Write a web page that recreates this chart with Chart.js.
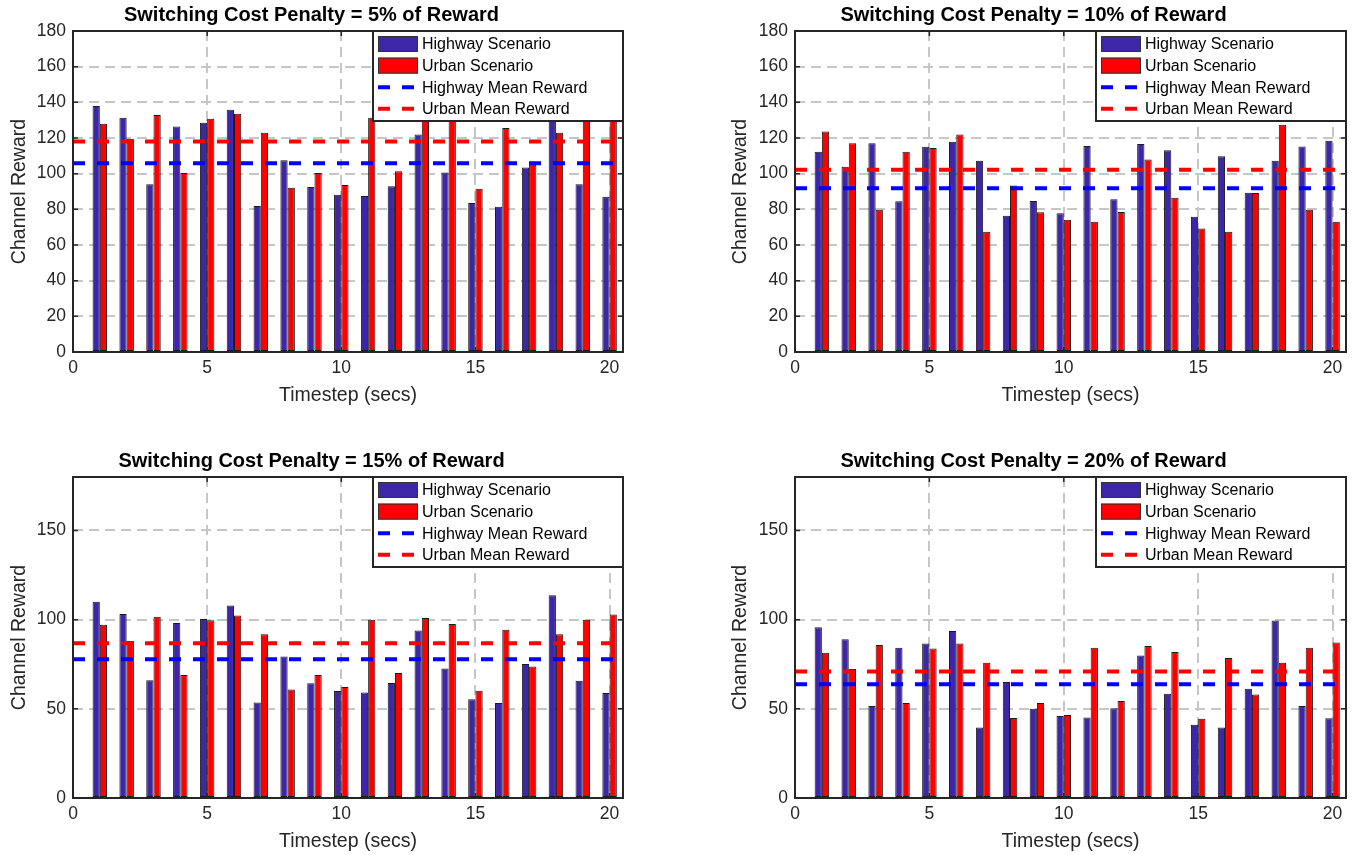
<!DOCTYPE html>
<html>
<head>
<meta charset="utf-8">
<script src="https://cdn.jsdelivr.net/npm/chart.js@4.4.1/dist/chart.umd.min.js"></script>
<style>
  html, body { margin: 0; padding: 0; background: #fff; width: 1356px; height: 855px; overflow: hidden; }
  .panel { position: absolute; }
</style>
</head>
<body>
<div class="panel" style="left:0;top:0"><canvas id="pen5" width="630" height="427"></canvas></div>
<div class="panel" style="left:721px;top:0"><canvas id="pen10" width="632" height="427"></canvas></div>
<div class="panel" style="left:0;top:446px"><canvas id="pen15" width="630" height="427"></canvas></div>
<div class="panel" style="left:721px;top:446px"><canvas id="pen20" width="632" height="427"></canvas></div>
<script>
// timesteps and tick labels
const timesteps = [1, 2, 3, 4, 5, 6, 7, 8, 9, 10, 11, 12, 13, 14, 15, 16, 17, 18, 19, 20];
const xTicks = [0, 5, 10, 15, 20];
const yTicksFine = [0, 20, 40, 60, 80, 100, 120, 140, 160, 180];
const yTicksCoarse = [0, 50, 100, 150];
const xMin = 0, xMax = 20.5, yMax = 180;

// 5% penalty
const highway5 = [138, 131.4, 94, 126.4, 128.6, 135.9, 81.9, 107.5, 92.5, 88.2, 87.5, 92.9, 122, 100.7, 83.6, 81.5, 103.4, 139, 94, 87.1];
const urban5 = [128, 119.6, 132.9, 100.4, 130.8, 133.6, 123, 92.1, 100.4, 93.6, 131.4, 101.3, 133, 131, 91.6, 125.6, 105, 123, 133, 133];
const highwayMean5 = 105.8, urbanMean5 = 118.1;

// 10% penalty
const highway10 = [112.3, 103.9, 117, 84.5, 115.1, 117.9, 107.3, 76.4, 84.7, 77.8, 115.5, 85.6, 116.6, 113.1, 75.9, 109.7, 89.3, 107.3, 115.3, 118.5];
const urban10 = [123.7, 117, 79.8, 112.3, 114.4, 121.9, 67.5, 93.3, 78.3, 74.2, 73.1, 78.5, 107.9, 86.5, 69.3, 67.5, 89.2, 127.5, 79.8, 73.1];
const highwayMean10 = 91.8, urbanMean10 = 102.2;

// 15% penalty
const highway15 = [110, 103.2, 66, 98.2, 100.4, 107.9, 53.5, 79.3, 64.3, 60, 59.1, 64.5, 93.9, 72.6, 55.4, 53.3, 75.2, 113.7, 65.8, 58.9];
const urban15 = [97.1, 88.1, 101.6, 69, 99.7, 102.3, 91.8, 60.8, 69, 62.3, 99.9, 70.1, 101, 97.6, 60.2, 94.3, 73.7, 91.8, 99.9, 102.9];
const highwayMean15 = 77.8, urbanMean15 = 86.8;

// 20% penalty
const highway20 = [95.8, 89, 51.6, 84.2, 86.6, 93.7, 39.5, 65.1, 50.1, 46, 45.1, 50.3, 79.9, 58.4, 41.1, 39.5, 61.2, 99.5, 51.6, 44.7];
const urban20 = [81.4, 72.4, 85.8, 53.3, 83.8, 86.6, 75.9, 44.9, 53.3, 46.6, 84.2, 54.4, 85.3, 81.9, 44.5, 78.5, 58, 75.9, 84.2, 87.2];
const highwayMean20 = 63.8, urbanMean20 = 70.9;

const FONT = '"Liberation Sans", Arial, Helvetica, sans-serif';
const AXIS_COLOR = '#262626';
Chart.defaults.font.family = FONT;
Chart.defaults.color = AXIS_COLOR;

// box around the axes + inward tick marks (matlab style)
const framePlugin = {
  id: 'frame',
  afterDatasetsDraw(chart) {
    const {ctx, chartArea: {left, top, right, bottom}, scales: {x, y}} = chart;
    ctx.save();
    ctx.strokeStyle = AXIS_COLOR;
    ctx.lineWidth = 1.5;
    ctx.beginPath();
    y.ticks.forEach(t => {
      const py = y.getPixelForValue(t.value);
      ctx.moveTo(left, py); ctx.lineTo(left + 5, py);
      ctx.moveTo(right - 5, py); ctx.lineTo(right, py);
    });
    x.ticks.forEach(t => {
      const px = x.getPixelForValue(t.value);
      ctx.moveTo(px, bottom); ctx.lineTo(px, bottom - 5);
      ctx.moveTo(px, top); ctx.lineTo(px, top + 5);
    });
    ctx.stroke();
    ctx.lineWidth = 2;
    ctx.strokeRect(left, top, right - left, bottom - top);
    ctx.restore();
  }
};

// legend box in the top right corner of the plot
const boxLegend = {
  id: 'boxLegend',
  afterDraw(chart) {
    const {ctx, chartArea: {top, right}} = chart;
    const w = 250, h = 90;
    const lx = right - w, ly = top;
    ctx.save();
    ctx.fillStyle = '#fff';
    ctx.fillRect(lx, ly, w, h);
    ctx.strokeStyle = AXIS_COLOR;
    ctx.lineWidth = 2;
    ctx.strokeRect(lx, ly, w, h);
    ctx.font = '16px ' + FONT;
    ctx.textBaseline = 'middle';
    chart.data.datasets.forEach((ds, i) => {
      const cy = ly + 13 + i * 21.6;
      if (ds.type === 'line') {
        ctx.strokeStyle = ds.borderColor;
        ctx.lineWidth = 4;
        ctx.setLineDash([12, 12]);
        ctx.beginPath();
        ctx.moveTo(lx + 5, cy); ctx.lineTo(lx + 42, cy);
        ctx.stroke();
        ctx.setLineDash([]);
      } else {
        ctx.fillStyle = ds.backgroundColor;
        ctx.fillRect(lx + 5, cy - 8, 40, 16);
        ctx.strokeStyle = '#333';
        ctx.lineWidth = 1;
        ctx.strokeRect(lx + 5.5, cy - 7.5, 39, 15);
      }
      ctx.fillStyle = '#000';
      ctx.fillText(ds.label, lx + 49, cy + 1);
    });
    ctx.restore();
  }
};

function makePanel(id, title, highway, urban, highwayMean, urbanMean, yTicks, axisWidth) {
  const ctx = document.getElementById(id).getContext('2d');
  return new Chart(ctx, {
    type: 'bar',
    data: {
      datasets: [
        {
          label: 'Highway Scenario',
          data: timesteps.map((t, i) => ({x: t, y: highway[i]})),
          backgroundColor: '#3E26A8',
          borderColor: '#1a1a1a',
          borderWidth: 1,
          borderSkipped: false,
          order: 1
        },
        {
          label: 'Urban Scenario',
          data: timesteps.map((t, i) => ({x: t, y: urban[i]})),
          backgroundColor: '#FF0000',
          borderColor: '#1a1a1a',
          borderWidth: 1,
          borderSkipped: false,
          order: 1
        },
        {
          type: 'line',
          label: 'Highway Mean Reward',
          data: [{x: xMin, y: highwayMean}, {x: xMax, y: highwayMean}],
          borderColor: '#0000FF',
          borderWidth: 4,
          borderDash: [12, 12],
          pointRadius: 0,
          fill: false,
          order: 0
        },
        {
          type: 'line',
          label: 'Urban Mean Reward',
          data: [{x: xMin, y: urbanMean}, {x: xMax, y: urbanMean}],
          borderColor: '#FF0000',
          borderWidth: 4,
          borderDash: [12, 12],
          pointRadius: 0,
          fill: false,
          order: 0
        }
      ]
    },
    options: {
      responsive: false,
      animation: false,
      categoryPercentage: 0.54,
      barPercentage: 1,
      layout: { padding: { left: 0, right: 7, top: 0, bottom: 0 } },
      plugins: {
        legend: { display: false },
        tooltip: { enabled: false },
        title: {
          display: true,
          text: title,
          color: '#000',
          font: { size: 20, weight: 'bold' },
          padding: { top: 3, bottom: 4 }
        }
      },
      scales: {
        x: {
          type: 'linear',
          min: xMin,
          max: xMax,
          offset: false,
          grid: { color: '#c6c6c6', lineWidth: 2, drawTicks: false, offset: false },
          border: { display: false, dash: [10, 6] },
          ticks: { padding: 6, color: AXIS_COLOR, font: { size: 17.5 }, includeBounds: false },
          title: { display: true, text: 'Timestep (secs)', color: AXIS_COLOR, font: { size: 19.5 }, padding: { top: 0, bottom: 20 } },
          afterBuildTicks: axis => { axis.ticks = xTicks.map(v => ({value: v})); },
          afterFit: axis => { axis.height = 75; }
        },
        y: {
          min: 0,
          max: yMax,
          grid: { color: '#c6c6c6', lineWidth: 2, drawTicks: false },
          border: { display: false, dash: [10, 6] },
          ticks: { padding: 7, color: AXIS_COLOR, font: { size: 17.5 } },
          title: { display: true, text: 'Channel Reward', color: AXIS_COLOR, font: { size: 19.5 }, padding: { top: 8, bottom: 0 } },
          afterBuildTicks: axis => { axis.ticks = yTicks.map(v => ({value: v})); },
          afterFit: axis => { axis.width = axisWidth; }
        }
      }
    },
    plugins: [framePlugin, boxLegend]
  });
}

makePanel('pen5', 'Switching Cost Penalty = 5% of Reward', highway5, urban5, highwayMean5, urbanMean5, yTicksFine, 73);
makePanel('pen10', 'Switching Cost Penalty = 10% of Reward', highway10, urban10, highwayMean10, urbanMean10, yTicksFine, 74);
makePanel('pen15', 'Switching Cost Penalty = 15% of Reward', highway15, urban15, highwayMean15, urbanMean15, yTicksCoarse, 73);
makePanel('pen20', 'Switching Cost Penalty = 20% of Reward', highway20, urban20, highwayMean20, urbanMean20, yTicksCoarse, 74);
</script>
</body>
</html>
